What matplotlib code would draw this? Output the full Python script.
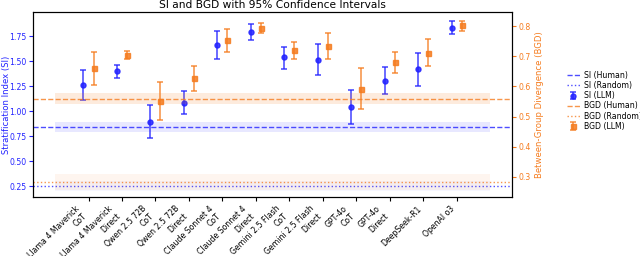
import numpy as np
import matplotlib.pyplot as plt

models = ["Llama 4 Maverick\nCoT", "Llama 4 Maverick\nDirect", "Qwen 2.5 72B\nCoT",
          "Qwen 2.5 72B\nDirect", "Claude Sonnet 4\nCoT", "Claude Sonnet 4\nDirect",
          "Gemini 2.5 Flash\nCoT", "Gemini 2.5 Flash\nDirect", "GPT-4o\nCoT",
          "GPT-4o\nDirect", "DeepSeek-R1", "OpenAI o3"]

si_mean = [1.26, 1.40, 0.89, 1.08, 1.66, 1.79, 1.54, 1.51, 1.04, 1.30, 1.42, 1.83]
si_low = [1.11, 1.33, 0.73, 0.97, 1.52, 1.71, 1.42, 1.36, 0.87, 1.17, 1.25, 1.77]
si_high = [1.41, 1.46, 1.06, 1.20, 1.80, 1.87, 1.64, 1.67, 1.21, 1.44, 1.58, 1.90]

bgd_mean = [0.661, 0.706, 0.552, 0.627, 0.753, 0.795, 0.720, 0.733, 0.592, 0.680, 0.712, 0.803]
bgd_low = [0.606, 0.692, 0.489, 0.586, 0.715, 0.776, 0.692, 0.691, 0.525, 0.646, 0.668, 0.783]
bgd_high = [0.715, 0.719, 0.615, 0.667, 0.790, 0.812, 0.747, 0.776, 0.661, 0.715, 0.757, 0.816]

si_human, si_human_ci = 0.84, (0.79, 0.89)
si_random, si_random_ci = 0.25, (0.20, 0.30)
bgd_human, bgd_human_ci = 0.56, (0.543, 0.58)
bgd_random, bgd_random_ci = 0.283, (0.257, 0.31)

si_color = "#2222ff"
bgd_color = "#f57c1f"

fig = plt.figure(figsize=(6.4, 2.56), dpi=100)
ax1 = fig.add_axes([0.052, 0.23, 0.748, 0.723])
ax2 = ax1.twinx()

x = np.arange(len(models))
off = 0.15
span = [-1, len(models)]

# reference bands
ax1.fill_between(span, *si_human_ci, color=si_color, alpha=0.1, lw=0)
ax1.fill_between(span, *si_random_ci, color=si_color, alpha=0.04, lw=0)
ax2.fill_between(span, *bgd_human_ci, color=bgd_color, alpha=0.15, lw=0)
ax2.fill_between(span, *bgd_random_ci, color=bgd_color, alpha=0.07, lw=0)

l1 = ax1.axhline(si_human, color=si_color, ls="--", lw=1, alpha=0.8, label="SI (Human)")
l2 = ax1.axhline(si_random, color=si_color, ls=":", lw=1, alpha=0.8, label="SI (Random)")
l4 = ax2.axhline(bgd_human, color=bgd_color, ls="--", lw=1, alpha=0.8, label="BGD (Human)")
l5 = ax2.axhline(bgd_random, color=bgd_color, ls=":", lw=1, alpha=0.8, label="BGD (Random)")

si_err = [np.array(si_mean) - np.array(si_low), np.array(si_high) - np.array(si_mean)]
bgd_err = [np.array(bgd_mean) - np.array(bgd_low), np.array(bgd_high) - np.array(bgd_mean)]

l3 = ax1.errorbar(x - off, si_mean, yerr=si_err, fmt="o", color=si_color, ms=3.6,
                  capsize=2.4, elinewidth=1.1, capthick=1.1, alpha=0.85, label="SI (LLM)")
l6 = ax2.errorbar(x + off, bgd_mean, yerr=bgd_err, fmt="s", color=bgd_color, ms=3.6,
                  capsize=2.4, elinewidth=1.1, capthick=1.1, alpha=0.85, label="BGD (LLM)")

ax1.set_ylim(0.14, 1.99)
ax2.set_ylim(0.233, 0.847)
ax1.set_xlim(-1.65, 12.65)
ax1.set_yticks([0.25, 0.5, 0.75, 1.0, 1.25, 1.5, 1.75])
ax2.set_yticks([0.3, 0.4, 0.5, 0.6, 0.7, 0.8])

ax1.set_xticks(x)
ax1.set_xticklabels(models, rotation=45, ha="right", fontsize=5.6)
ax1.tick_params(axis="y", colors=si_color, labelsize=5.6, length=3, pad=2)
ax2.tick_params(axis="y", colors=bgd_color, labelsize=5.6, length=3, pad=2)
ax1.tick_params(axis="x", labelsize=5.6, length=3, pad=2)

ax1.set_ylabel("Stratification Index (SI)", color=si_color, fontsize=6.1)
ax1.yaxis.set_label_coords(-0.047, 0.5)
ax2.set_ylabel("Between-Group Divergence (BGD)", color=bgd_color, fontsize=6.1, labelpad=3)
ax1.set_title("SI and BGD with 95% Confidence Intervals", fontsize=7.7, pad=3)

handles = [l1, l2, l3, l4, l5, l6]
ax1.legend(handles, [h.get_label() for h in handles], loc="center left",
           bbox_to_anchor=(1.1, 0.52), frameon=False, fontsize=5.6,
           handlelength=1.7, handletextpad=0.5, labelspacing=0.15)

fig.savefig("out.png", dpi=100)
